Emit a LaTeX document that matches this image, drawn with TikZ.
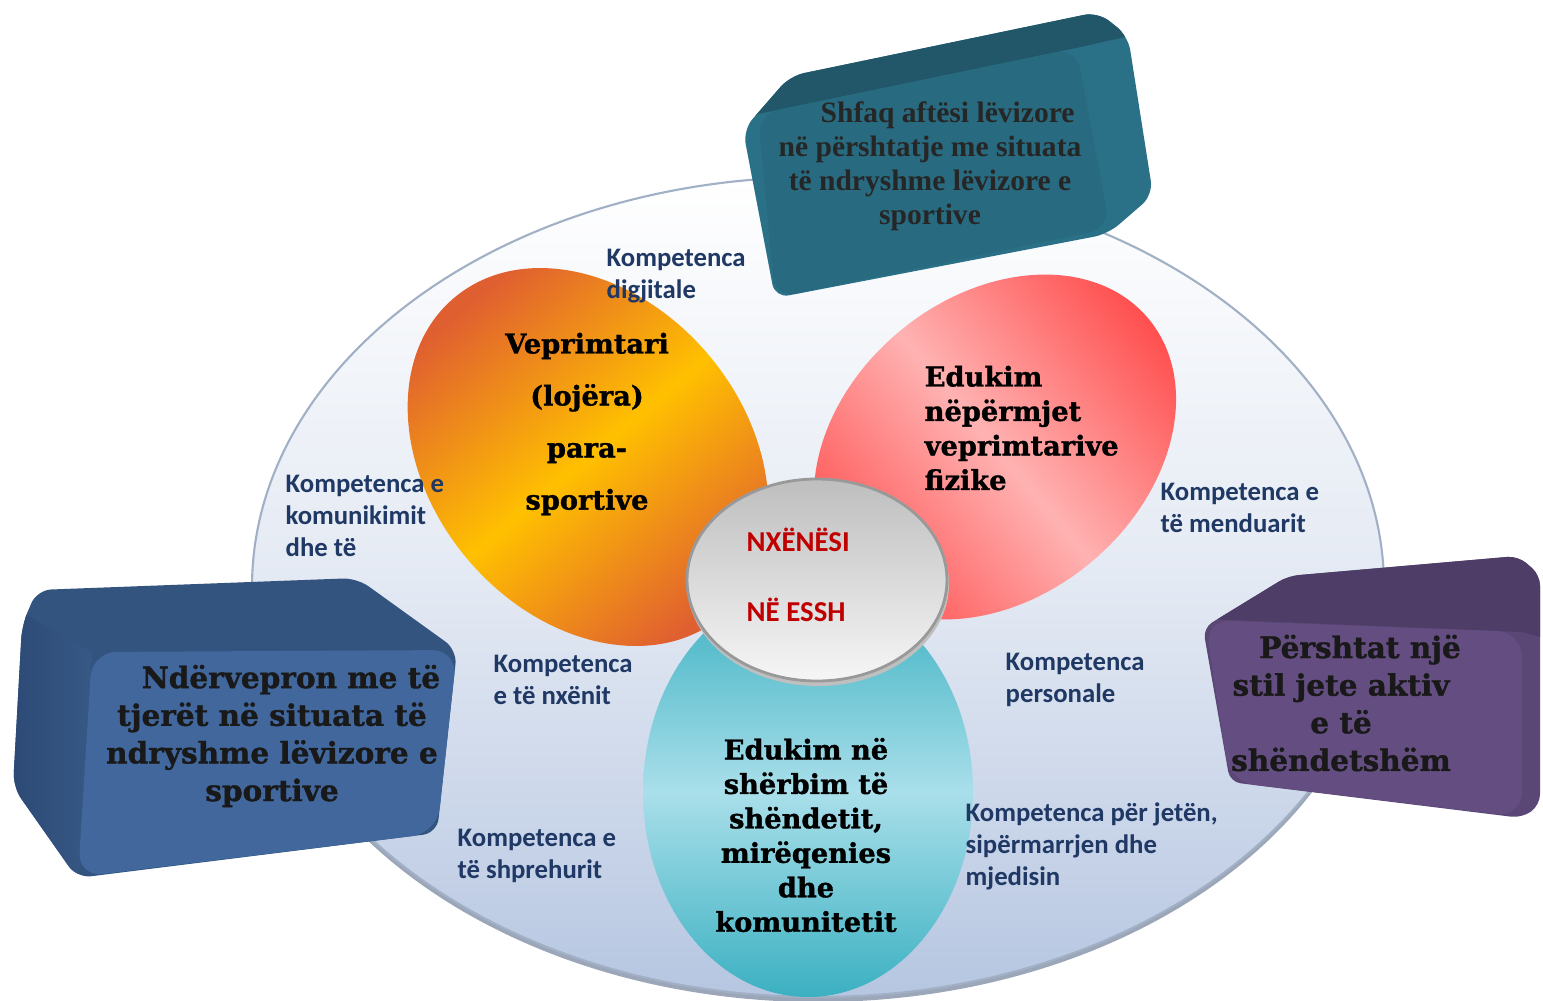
\documentclass[tikz,border=0pt]{standalone}
\usepackage{fontspec}
\newfontfamily\slabfont{DejaVu Serif}[BoldFeatures={FakeBold=1.2}]
\newfontfamily\calfont{Carlito}
\newfontfamily\timesfont{Liberation Serif}

\definecolor{navy}{HTML}{1F3864}
\definecolor{discmid}{HTML}{E3E9F3}
\definecolor{discbottom}{HTML}{B6C6E1}
\definecolor{discedge}{HTML}{A2B0C6}
\definecolor{orangeend}{HTML}{E05F30}
\definecolor{orangemid}{HTML}{FFC000}
\definecolor{redend}{HTML}{FF4F4F}
\definecolor{redmid}{HTML}{FFB2B2}
\definecolor{tealend}{HTML}{3BB0C1}
\definecolor{tealmid}{HTML}{A9DFEA}
\definecolor{disktop}{HTML}{BEBEBE}
\definecolor{diskbottom}{HTML}{F6F6F6}
\definecolor{learnerred}{HTML}{C00000}
\definecolor{tealface}{HTML}{286A7F}
\definecolor{tealtop}{HTML}{215769}
\definecolor{tealside}{HTML}{2A7086}
\definecolor{blueface}{HTML}{41679C}
\definecolor{bluetop}{HTML}{33547F}
\definecolor{blueleft}{HTML}{2B4873}
\definecolor{purpleface}{HTML}{644E81}
\definecolor{purpletop}{HTML}{4E3E67}
\definecolor{purpleside}{HTML}{5A4776}

\begin{document}
\begin{tikzpicture}[x=0.01cm, y=-0.01cm,
        kompetenca/.style={anchor=west, align=left, inner sep=0pt, text=navy, font=\calfont\bfseries\fontsize{7.6}{9.1}\selectfont},
        petaltext/.style={inner sep=0pt, text=black, font=\slabfont\bfseries\fontsize{7.75}{9.8}\selectfont},
        boxtext/.style={inner sep=0pt, align=center, text=black!90, font=\slabfont\bfseries\fontsize{8.4}{10.7}\selectfont}
    ]
        \clip (0,0) rectangle (1543,1000);

        % Outer disc
        \fill[discedge!80!gray] (818,592) ellipse (566 and 410);
        \shade[top color=white, bottom color=discbottom, middle color=discmid, draw=discedge, line width=0.6pt]
            (818,587) ellipse (566 and 410);

        % Petals
        \shade[top color=orangeend, bottom color=orangeend, middle color=orangemid, shading angle=40,
            rotate around={-50:(588,457)}] (588,457) ellipse (208 and 158);
        \shade[top color=redend, bottom color=redend, middle color=redmid, shading angle=-50,
            rotate around={40:(995,447)}] (995,447) ellipse (200 and 150);
        \shade[top color=tealend, bottom color=tealend, middle color=tealmid] (808,792) ellipse (165 and 205);

        % Centre
        \fill[gray!50] (818,584) ellipse (131 and 102);
        \shade[top color=disktop, bottom color=diskbottom, draw=gray!80, line width=0.8pt] (817,580) ellipse (130 and 101);
        \node[anchor=west, align=left, inner sep=0pt, text=learnerred, font=\calfont\bfseries\fontsize{8.2}{20}\selectfont]
            (learner) at (746,575) {NXËNËSI\\NË ESSH};

        % Petal texts
        \node[petaltext, align=center, font=\slabfont\bfseries\fontsize{7.75}{14.8}\selectfont]
            (parasport) at (587,424) {Veprimtari\\(lojëra)\\para-\\sportive};
        \node[petaltext, anchor=west, align=left] (fizike) at (924,428)
            {Edukim\\nëpërmjet\\veprimtarive\\fizike};
        \node[petaltext, align=center] (shendet) at (806,835)
            {Edukim në\\shërbim të\\shëndetit,\\mirëqenies\\dhe\\komunitetit};

        % Competences
        \node[kompetenca] (digjitale) at (606,276) {Kompetenca\\digjitale};
        \node[kompetenca] (komunikim) at (285,516) {Kompetenca e\\komunikimit\\dhe të};
        \node[kompetenca] (menduar) at (1160,508) {Kompetenca e\\të menduarit};
        \node[kompetenca] (nxenit) at (493,680) {Kompetenca\\e të nxënit};
        \node[kompetenca] (personale) at (1005,680) {Kompetenca\\personale};
        \node[kompetenca] (shprehur) at (457,856) {Kompetenca e\\të shprehurit};
        \node[kompetenca] (jeta) at (965,846) {Kompetenca për jetën,\\sipërmarrjen dhe\\mjedisin};

        % Top box
        \begin{scope}
            \clip[rounded corners=4pt] (743,130) -- (790,76) -- (1098,12) -- (1128,36) -- (1153,195)
                -- (1108,234) -- (775,298) -- cycle;
            \fill[tealside] (700,0) rectangle (1200,320);
            \fill[tealtop] (700,150) -- (758,114) -- (1076,48) -- (1200,20) -- (1200,0) -- (700,0) -- cycle;
        \end{scope}
        \fill[tealface, rounded corners=6pt] (758,114) -- (1076,48) -- (1110,228) -- (775,298) -- cycle;
        \node[boxtext, text=black!85, font=\timesfont\bfseries\fontsize{8.4}{9.7}\selectfont] (aftesi) at (930,166)
            {\hspace*{10pt}Shfaq aftësi lëvizore\\në përshtatje me situata\\të ndryshme lëvizore e\\sportive};

        % Left box
        \begin{scope}
            \clip[rounded corners=4pt] (37,590) -- (357,578) -- (457,650) -- (437,833) -- (77,878)
                -- (13,787) -- (22,625) -- cycle;
            \fill[bluetop] (0,560) rectangle (470,900);
            \shade[left color=blueleft, right color=blueface!85!black] (0,600) -- (92,652) -- (78,877) -- (0,900) -- cycle;
        \end{scope}
        \fill[blueface, rounded corners=7pt] (92,652) -- (457,650) -- (437,833) -- (78,877) -- cycle;
        \node[boxtext] (nderveprim) at (272,736)
            {\hspace*{10.8pt}Ndërvepron me të\\tjerët në situata të\\ndryshme lëvizore e\\sportive};

        % Right box
        \begin{scope}
            \clip[rounded corners=3pt] (1203,628) -- (1288,576) -- (1518,556) -- (1540,575) -- (1540,805)
                -- (1522,818) -- (1230,782) -- cycle;
            \fill[purpleside] (1190,540) rectangle (1543,830);
            \fill[purpletop] (1190,640) -- (1207,619) -- (1522,632) -- (1550,640) -- (1550,540) -- (1190,540) -- cycle;
        \end{scope}
        \fill[purpleface, rounded corners=7pt] (1205,620) -- (1522,632) -- (1522,817) -- (1230,782) -- cycle;
        \node[boxtext] (stiljete) at (1341,703)
            {\hspace*{10.8pt}Përshtat një\\stil jete aktiv\\e të\\shëndetshëm};
\end{tikzpicture}
\end{document}
